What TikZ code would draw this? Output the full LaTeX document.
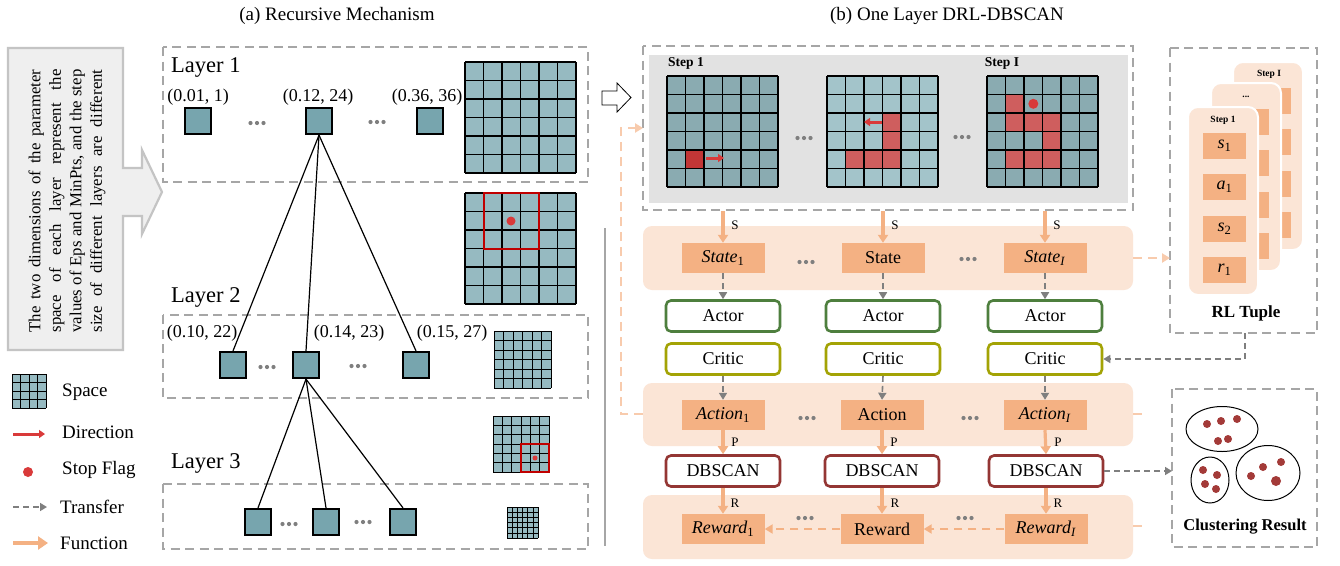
\documentclass[tikz,border=0pt]{standalone}
\usepackage{fontspec}
\setmainfont{Liberation Serif}
\usetikzlibrary{arrows.meta,calc}

\definecolor{gridfill}{HTML}{96BAC1}
\definecolor{gridfillB}{HTML}{A3C4CA}
\definecolor{sqfill}{HTML}{77A5AE}
\definecolor{flagred}{HTML}{D93A3A}
\definecolor{cellred}{HTML}{CF5E5E}
\definecolor{cellredA}{HTML}{C23636}
\definecolor{frame}{HTML}{C00000}
\definecolor{dashgray}{HTML}{A6A6A6}
\definecolor{panelgray}{HTML}{E2E2E2}
\definecolor{peach}{HTML}{FBE5D6}
\definecolor{orangebox}{HTML}{F4B183}
\definecolor{lightorange}{HTML}{F8CBAD}
\definecolor{actorgreen}{HTML}{4E7F3E}
\definecolor{criticolive}{HTML}{A3A305}
\definecolor{dbred}{HTML}{943634}
\definecolor{arrowgray}{HTML}{7F7F7F}
\definecolor{dotgray}{HTML}{7F7F7F}
\definecolor{pointred}{HTML}{A33A38}
\definecolor{calloutfill}{HTML}{EFEFEF}
\definecolor{calloutborder}{HTML}{C4C4C4}

\newcommand\fsz[1]{\fontsize{#1}{#1}\selectfont}

% grid lines of an n x n parameter space
\newcommand\gridlines[5]{%
  \foreach \k in {0,...,#4}{%
    \draw[line width=#5] ({#1+\k*#3/#4},#2) -- ++(0,#3);
    \draw[line width=#5] (#1,{#2+\k*#3/#4}) -- ++(#3,0);}}
% one filled cell of a 6 x 6 step grid (cell size 18.5)
\newcommand\cellat[5]{\fill[#5] ({#1+#3*18.5},{#2+#4*18.5}) rectangle ++(18.5,18.5);}
% three grey dots
\newcommand\threedots[2]{%
  \foreach \d in {-6.5,0,6.5}{\fill[dotgray] ({#1+\d},#2) circle (2.1);}}

\tikzset{
  graybox/.style={draw=dashgray, line width=2.6pt, dash pattern=on 9pt off 5.5pt},
  sq/.style={draw=black, line width=2.2pt, fill=sqfill, minimum size=26pt, inner sep=0pt},
  lbl/.style={font=\fsz{18}, inner sep=0pt},
  obox/.style={fill=orangebox, minimum width=83pt, minimum height=30pt, inner sep=0pt, font=\fsz{18}},
  rbox/.style={rounded corners=5pt, fill=white, line width=2.6pt, minimum width=114pt,
    minimum height=31pt, inner sep=0pt, font=\fsz{18}},
  actorbox/.style={rbox, draw=actorgreen},
  criticbox/.style={rbox, draw=criticolive},
  dbbox/.style={rbox, draw=dbred},
  band/.style={fill=peach, rounded corners=9pt},
  transfer/.style={draw=arrowgray, line width=1.6pt, dash pattern=on 6pt off 4pt,
    -{Triangle[width=8pt,length=7pt]}},
  fun/.style={draw=orangebox, line width=3.2pt, -{Triangle[width=10pt,length=8pt]}},
  fundash/.style={draw=orangebox, line width=2.6pt, dash pattern=on 8pt off 6pt,
    -{Triangle[width=9pt,length=8pt]}},
  feedback/.style={draw=lightorange, line width=2.8pt, dash pattern=on 9pt off 6pt},
  dir/.style={draw=flagred, line width=3pt, -{Triangle[width=8pt,length=6pt]}},
  tiny/.style={font=\fsz{13}, inner sep=0pt},
  legend/.style={font=\fsz{19}, inner sep=0pt, anchor=west},
  tree/.style={line width=1.2pt},
  card/.style={fill=peach, draw=white, line width=2pt, rounded corners=10pt},
  tuplebox/.style={fill=orangebox, minimum width=43pt, minimum height=26pt, inner sep=0pt, font=\fsz{18}},
}

\begin{document}
\begin{tikzpicture}[x=1pt,y=-1pt]
\fill[white] (0,0) rectangle (1340,565);
\useasboundingbox (0,0) rectangle (1340,565);

% ---------------- titles ----------------
\node[font=\fsz{19}] (ta) at (337,16) {(a) Recursive Mechanism};
\node[font=\fsz{19}] (tb) at (947,16) {(b) One Layer DRL-DBSCAN};

% ---------------- explanatory callout ----------------
\draw[draw=calloutborder, fill=calloutfill, line width=2.2pt]
  (8,48) -- (123,48) -- (123,168) -- (142,168) -- (142,150) -- (162,192)
  -- (142,234) -- (142,216) -- (123,216) -- (123,350) -- (8,350) -- cycle;
\node[rotate=90, align=center, inner sep=0pt, font=\fontsize{16.8}{20.5}\selectfont] (note) at (67,201)
  {\makebox[263pt][s]{The two dimensions of the parameter}\\
   \makebox[263pt][s]{space of each layer represent the}\\
   \makebox[263pt][s]{values of Eps and MinPts, and the step}\\
   \makebox[263pt][s]{size of different layers are different}};

% ---------------- legend ----------------
\fill[gridfill] (12,374) rectangle ++(34,34);
\gridlines{12}{374}{34}{4}{0.7pt}
\node[legend] (lgspace) at (62,392) {Space};
\coordinate (dirA) at (13,434); \coordinate (dirB) at (45,434);
\draw[dir] (dirA) -- (dirB);
\node[legend] (lgdir) at (62,432) {Direction};
\fill[flagred] (28,472) circle (5);
\node[legend] (lgstop) at (62,470) {Stop Flag};
\coordinate (trA) at (13,507); \coordinate (trB) at (47,507);
\draw[transfer] (trA) -- (trB);
\node[legend] (lgtr) at (60,507) {Transfer};
\coordinate (fnA) at (13,543); \coordinate (fnB) at (48,543);
\draw[fun, line width=4pt, -{Triangle[width=13pt,length=10pt]}] (fnA) -- (fnB);
\node[legend] (lgfn) at (60,543) {Function};

% ---------------- recursive mechanism ----------------
\draw[graybox] (163,47) rectangle (588,182);
\draw[graybox] (163,315) rectangle (588,398);
\draw[graybox] (163,484) rectangle (588,549);

\node[font=\fsz{22.5}, inner sep=0pt, anchor=west] (ly1) at (171,67) {Layer 1};
\node[font=\fsz{22.5}, inner sep=0pt, anchor=west] (ly2) at (171,297) {Layer 2};
\node[font=\fsz{22.5}, inner sep=0pt, anchor=west] (ly3) at (171,463) {Layer 3};

% layer 1
\node[sq] (l1a) at (198,121) {};
\node[sq] (l1b) at (319,121) {};
\node[sq] (l1c) at (430,121) {};
\node[lbl] (p1a) at (198,97) {(0.01, 1)};
\node[lbl] (p1b) at (318,97) {(0.12, 24)};
\node[lbl] (p1c) at (427,97) {(0.36, 36)};
\threedots{257}{123}
\threedots{377}{122}

% layer 2
\node[sq] (l2a) at (233,365) {};
\node[sq] (l2b) at (306,365) {};
\node[sq] (l2c) at (416,365) {};
\node[lbl] (p2a) at (202,333) {(0.10, 22)};
\node[lbl] (p2b) at (349,333) {(0.14, 23)};
\node[lbl] (p2c) at (452,333) {(0.15, 27)};
\threedots{267}{367}
\threedots{358}{366}

% layer 3
\node[sq] (l3a) at (258,522) {};
\node[sq] (l3b) at (326,522) {};
\node[sq] (l3c) at (403,522) {};
\threedots{289}{524}
\threedots{363}{522}

% tree of refinements
\draw[tree] (l1b.south) -- (l2a.north);
\draw[tree] (l1b.south) -- (l2b.north);
\draw[tree] (l1b.south) -- (l2c.north);
\draw[tree] (l2b.south) -- (l3a.north);
\draw[tree] (l2b.south) -- (l3b.north);
\draw[tree] (l2b.south) -- (l3c.north);

% parameter spaces
\fill[gridfill] (465,62) rectangle ++(111,111);
\gridlines{465}{62}{111}{6}{1.2pt}

\fill[gridfill] (465,193) rectangle ++(111,111);
\gridlines{465}{193}{111}{6}{1.2pt}
\draw[frame, line width=2pt] (483.5,193) rectangle (539,248.5);
\fill[flagred] (511,221) circle (4.5);

\fill[gridfill] (494,331) rectangle ++(57,57);
\gridlines{494}{331}{57}{6}{0.8pt}

\fill[gridfill] (493,416) rectangle ++(56,56);
\gridlines{493}{416}{56}{6}{0.8pt}
\draw[frame, line width=1.2pt] (521,444) rectangle (549,472);
\fill[flagred] (535,458) circle (2.5);

\fill[gridfill] (507,507) rectangle ++(31,31);
\gridlines{507}{507}{31}{6}{0.6pt}

% separator
\draw[dashgray, line width=1.2pt] (605,228) -- (605,546);

% hollow arrow into the layer panel
\draw[fill=white, line width=0.8pt, line join=miter]
  (602,91) -- (617,91) -- (617,83) -- (631,97.5) -- (617,112) -- (617,105) -- (602,105) -- cycle;

% ---------------- one layer DRL-DBSCAN ----------------
\fill[panelgray] (649,55) rectangle (1128,203);
\draw[graybox] (643,46) rectangle (1133,210);
\node[font=\bfseries\fsz{13.5}, inner sep=0pt] (stp1) at (686,63) {Step 1};
\node[font=\bfseries\fsz{13.5}, inner sep=0pt] (stpI) at (1002,63) {Step I};

% step 1 grid
\fill[gridfill!92!black] (667,76) rectangle ++(111,111);
\cellat{667}{76}{1}{4}{cellredA}
\gridlines{667}{76}{111}{6}{1.2pt}
\coordinate (da1) at (706,158); \coordinate (da2) at (724,158);
\draw[dir] (da1) -- (da2);
\threedots{804}{138}

% intermediate step grid
\fill[gridfillB] (827,76) rectangle ++(111,111);
\foreach \c/\r in {3/2,3/3,3/4,1/4,2/4}{\cellat{827}{76}{\c}{\r}{cellred}}
\gridlines{827}{76}{111}{6}{1.2pt}
\coordinate (db1s) at (882,122); \coordinate (db1e) at (864,122);
\draw[dir] (db1s) -- (db1e);
\threedots{962}{137}

% step I grid
\fill[gridfill!92!black] (987,76) rectangle ++(111,111);
\foreach \c/\r in {1/1,1/2,2/2,3/2,3/3,1/4,2/4,3/4}{\cellat{987}{76}{\c}{\r}{cellred}}
\gridlines{987}{76}{111}{6}{1.2pt}
\fill[black!35, opacity=0.5] (1034.5,105) circle (5);
\fill[flagred] (1033.3,103.8) circle (5);

% bands
\fill[band] (643,226) rectangle (1133,290);
\fill[band] (643,383) rectangle (1133,446);
\fill[band] (643,495) rectangle (1133,559);

% state row
\node[obox] (st1) at (723,258) {\textit{State}\textsubscript{1}};
\node[obox] (st2) at (883,258) {State};
\node[obox] (st3) at (1045,258) {\textit{State}\textsubscript{\textit{I}}};
\threedots{806}{262}
\threedots{968}{259}

\coordinate (g1) at (723,211);
\coordinate (g2) at (883,211);
\coordinate (g3) at (1045,211);
\draw[fun] (g1) -- (st1.north);
\draw[fun] (g2) -- (st2.north);
\draw[fun] (g3) -- (st3.north);
\node[tiny] (s1) at (735,225) {S};
\node[tiny] (s2) at (895,225) {S};
\node[tiny] (s3) at (1057,225) {S};

% actor / critic
\node[actorbox] (ac1) at (723,316) {Actor};
\node[actorbox] (ac2) at (883,316) {Actor};
\node[actorbox] (ac3) at (1045,316) {Actor};
\node[criticbox] (cr1) at (723,359) {Critic};
\node[criticbox] (cr2) at (883,359) {Critic};
\node[criticbox] (cr3) at (1045,359) {Critic};
\draw[transfer] (st1.south) -- (ac1.north);
\draw[transfer] (st2.south) -- (ac2.north);
\draw[transfer] (st3.south) -- (ac3.north);

% action row
\node[obox] (an1) at (723,415) {\textit{Action}\textsubscript{1}};
\node[obox] (an2) at (882,415) {Action};
\node[obox] (an3) at (1045,415) {\textit{Action}\textsubscript{\textit{I}}};
\threedots{807}{418}
\threedots{970}{418}
\draw[transfer] (cr1.south) -- (an1.north);
\draw[transfer] (cr2.south) -- (an2.north);
\draw[transfer] (cr3.south) -- (an3.north);

% DBSCAN
\node[dbbox] (dbs1) at (723,471) {DBSCAN};
\node[dbbox] (dbs2) at (882,471) {DBSCAN};
\node[dbbox] (dbs3) at (1046,471) {DBSCAN};
\draw[fun] (an1.south) -- (dbs1.north);
\draw[fun] (an2.south) -- (dbs2.north);
\draw[fun] (an3.south) -- (dbs3.north);
\node[tiny] (pp1) at (735,442) {P};
\node[tiny] (pp2) at (894,442) {P};
\node[tiny] (pp3) at (1058,442) {P};

% reward row
\node[obox] (rw1) at (723,529) {\textit{Reward}\textsubscript{1}};
\node[obox] (rw2) at (882,529) {Reward};
\node[obox] (rw3) at (1046,529) {\textit{Reward}\textsubscript{\textit{I}}};
\draw[fun] (dbs1.south) -- (rw1.north);
\draw[fun] (dbs2.south) -- (rw2.north);
\draw[fun] (dbs3.south) -- (rw3.north);
\node[tiny] (rr1) at (735,503) {R};
\node[tiny] (rr2) at (895,503) {R};
\node[tiny] (rr3) at (1058,503) {R};
\draw[fundash] (rw3.west) -- (rw2.east);
\draw[fundash] (rw2.west) -- (rw1.east);
\threedots{805}{518}
\threedots{965}{518}

% feedback from the action band back to the step panel
\coordinate (fbA) at (643,414);
\coordinate (fbP) at (643,128);
\draw[feedback, -{Triangle[width=9pt,length=8pt]}] (fbA) -- ++(-22,0) |- (fbP);

% ---------------- RL tuple ----------------
\draw[graybox] (1170,48) rectangle (1317,333);
\draw[card] (1233,62) rectangle ++(70,188);
\foreach \dy in {26,67,109,150}{\fill[orangebox] (1248,62+\dy) rectangle ++(43,26);}
\node[font=\bfseries\fsz{9.5}, inner sep=0pt] (tI) at (1269,74) {Step I};
\draw[card] (1211,83) rectangle ++(70,188);
\foreach \dy in {26,67,109,150}{\fill[orangebox] (1226,83+\dy) rectangle ++(43,26);}
\node[font=\bfseries\fsz{9.5}, inner sep=0pt] (tm) at (1246,97) {...};
\draw[card] (1188,107) rectangle ++(70,188);
\node[font=\bfseries\fsz{9.5}, inner sep=0pt] (t1) at (1223,120) {Step 1};
\node[tuplebox] (ts1) at (1224.5,146) {\textit{s}\textsubscript{1}};
\node[tuplebox] (ta1) at (1224.5,187) {\textit{a}\textsubscript{1}};
\node[tuplebox] (ts2) at (1224.5,229) {\textit{s}\textsubscript{2}};
\node[tuplebox] (tr1) at (1224.5,270) {\textit{r}\textsubscript{1}};
\node[font=\bfseries\fsz{17}, inner sep=0pt] (rlt) at (1246,313) {RL Tuple};

% connectors on the right side
\coordinate (rlIn) at (1170,258);
\coordinate (sbR) at (1133,258);
\coordinate (abR) at (1133,414);
\coordinate (rbR) at (1133,526);
\coordinate (abS) at (1145,414);
\coordinate (rbS) at (1145,526);
\draw[feedback] (abR) -- (abS);
\draw[feedback] (rbR) -- (rbS);
\draw[feedback, -{Triangle[width=9pt,length=8pt]}] (sbR) -- (rlIn);
\coordinate (rlOut) at (1245,333);
\draw[transfer] (rlOut) |- (cr3.east);

% ---------------- clustering result ----------------
\draw[graybox] (1172,389) rectangle (1317,547);
\coordinate (clIn) at (1172,471);
\draw[transfer] (dbs3.east) -- (clIn);
\draw[line width=1pt] (1222,429) ellipse [x radius=36, y radius=22.5];
\draw[line width=1pt] (1210,480) ellipse [x radius=19, y radius=23];
\draw[line width=1pt] (1268,473) ellipse [x radius=32, y radius=27.5];
\foreach \p in {(1207,424),(1221,421),(1237,419),(1218,441),(1228,439),
                (1203,470),(1217,475),(1205,484),(1216,489),
                (1251,476),(1263,467),(1281,462)}{\fill[pointred] \p circle (4);}
\fill[pointred] (1276,481) circle (5);
\node[font=\bfseries\fsz{16.5}, inner sep=0pt] (clr) at (1245,527) {Clustering Result};
\end{tikzpicture}
\end{document}
